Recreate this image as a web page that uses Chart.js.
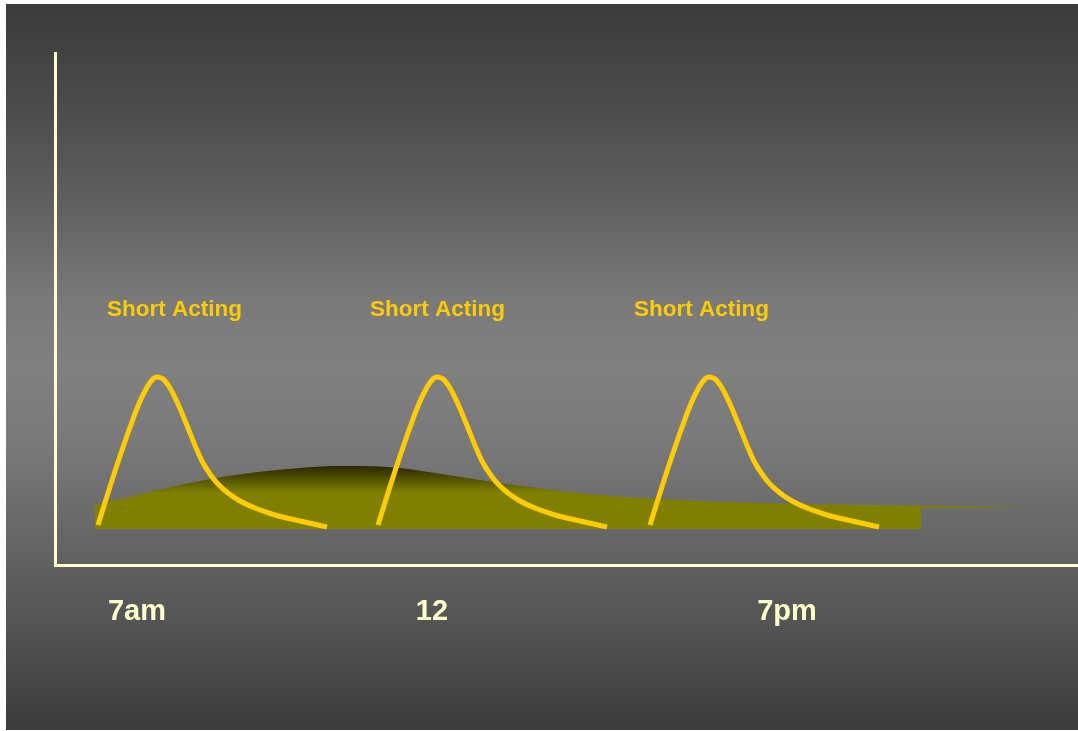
<!DOCTYPE html>
<html>
<head>
<meta charset="utf-8">
<title>Short acting insulin doses over a basal level</title>
<script src="https://cdn.jsdelivr.net/npm/chart.js@4/dist/chart.umd.min.js"></script>
<style>
  html, body { margin: 0; padding: 0; background: #ffffff; }
  canvas { display: block; }
</style>
</head>
<body>
<canvas id="chart" width="1078" height="731"></canvas>
<script>
// Time axis labels and where they sit along the day
const hourTicks = [82, 377, 732];
const hourLabels = ['7am', '12', '7pm'];

// Short acting doses: [time, insulin level]
const shortActing1 = [[43,40],[53,72],[63,103],[73,132],[83,159],[91,176],[97,185],[102,188],[108,186],[115,177],[123,161],[131,142],[139,122],[147,104],[155,91],[163,81],[173,72],[185,64],[200,57],[220,50],[245,44],[272,38]];
const shortActing2 = [[323,40],[333,72],[343,103],[353,132],[363,159],[371,176],[377,185],[382,188],[388,186],[395,177],[403,161],[411,142],[419,122],[427,104],[435,91],[443,81],[453,72],[465,64],[480,57],[500,50],[525,44],[552,38]];
const shortActing3 = [[595,40],[605,72],[615,103],[625,132],[635,159],[643,176],[649,185],[654,188],[660,186],[667,177],[675,161],[683,142],[691,122],[699,104],[707,91],[715,81],[725,72],[737,64],[752,57],[772,50],[797,44],[824,38]];

// Basal (long acting) level: upper edge and floor of the shaded band
const basalTop = [[40,60],[95,73],[145,84],[195,92],[245,97],[280,99],[305,99],[345,97],[380,92],[425,85],[490,76],[545,70],[645,64],[745,61],[866,59.5],[985,57.5]];
const basalFloor = [[40,36],[866,36],[866,57.3],[985,57.5]];

// Dose captions: left edge of each caption and its height on the level axis
const captionText = 'Short Acting';
const captionX = [52, 315, 579];
const captionY = 255;

const FONT = "'Liberation Sans', Arial, Helvetica, sans-serif";
const toPoints = arr => arr.map(([x, y]) => ({ x, y }));

const slideBackground = {
  id: 'slideBackground',
  beforeDraw(chart) {
    const ctx = chart.ctx;
    ctx.save();
    ctx.fillStyle = '#ffffff';
    ctx.fillRect(0, 0, chart.width, chart.height);
    const g = ctx.createLinearGradient(0, 4, 0, 730);
    [[0, '#3b3b3b'], [0.13, '#4a4a4a'], [0.27, '#5f5f5f'], [0.41, '#7a7a7a'], [0.5, '#808080'],
     [0.6, '#7a7a7a'], [0.72, '#686868'], [0.845, '#555555'], [0.955, '#434343'], [1, '#3c3c3c']]
      .forEach(([p, c]) => g.addColorStop(p, c));
    ctx.fillStyle = g;
    ctx.fillRect(6, 4, chart.width - 6, 726);
    ctx.restore();
  }
};

const doseCaptions = {
  id: 'doseCaptions',
  afterDatasetsDraw(chart) {
    const { ctx, scales } = chart;
    ctx.save();
    ctx.font = 'bold 22.5px ' + FONT;
    ctx.fillStyle = '#ffcc00';
    ctx.textAlign = 'left';
    ctx.textBaseline = 'middle';
    captionX.forEach(x => {
      ctx.fillText(captionText, scales.x.getPixelForValue(x), scales.y.getPixelForValue(captionY));
    });
    ctx.restore();
  }
};

function basalFill(context) {
  const chart = context.chart;
  const { ctx, chartArea, scales } = chart;
  if (!chartArea) return '#808000';
  const g = ctx.createLinearGradient(0, scales.y.getPixelForValue(101), 0, scales.y.getPixelForValue(72));
  g.addColorStop(0, '#222200');
  g.addColorStop(1, '#808000');
  return g;
}

const doseStyle = {
  borderColor: '#ffcc00',
  borderWidth: 5,
  pointRadius: 0,
  fill: false,
  cubicInterpolationMode: 'monotone',
  borderCapStyle: 'butt',
  borderJoinStyle: 'round',
  order: 0
};

new Chart(document.getElementById('chart'), {
  type: 'line',
  data: {
    datasets: [
      Object.assign({ label: 'Short acting 1', data: toPoints(shortActing1) }, doseStyle),
      Object.assign({ label: 'Short acting 2', data: toPoints(shortActing2) }, doseStyle),
      Object.assign({ label: 'Short acting 3', data: toPoints(shortActing3) }, doseStyle),
      {
        label: 'Basal',
        data: toPoints(basalTop),
        borderWidth: 0,
        borderColor: 'rgba(0,0,0,0)',
        backgroundColor: basalFill,
        pointRadius: 0,
        cubicInterpolationMode: 'monotone',
        fill: '+1',
        order: 2
      },
      {
        label: 'Basal floor',
        data: toPoints(basalFloor),
        borderWidth: 0,
        borderColor: 'rgba(0,0,0,0)',
        pointRadius: 0,
        tension: 0,
        fill: false,
        order: 3
      }
    ]
  },
  options: {
    responsive: false,
    devicePixelRatio: 1,
    animation: false,
    events: [],
    layout: { padding: { left: 55, top: 53, right: 0, bottom: 0 } },
    plugins: {
      legend: { display: false },
      tooltip: { enabled: false },
      title: { display: false }
    },
    scales: {
      x: {
        type: 'linear',
        min: 0,
        max: 1023,
        grid: { display: false, drawTicks: false },
        border: { display: true, color: '#ffffcc', width: 3 },
        afterBuildTicks(scale) {
          scale.ticks = hourTicks.map(v => ({ value: v }));
        },
        afterFit(scale) { scale.height = 166; },
        ticks: {
          autoSkip: false,
          maxRotation: 0,
          padding: 30,
          color: '#ffffcc',
          font: { family: FONT, size: 29, weight: 'bold' },
          callback: value => hourLabels[hourTicks.indexOf(value)]
        }
      },
      y: {
        type: 'linear',
        min: 0,
        max: 512,
        grid: { display: false, drawTicks: false },
        border: { display: true, color: '#ffffcc', width: 3 },
        ticks: { display: false },
        afterFit(scale) { scale.width = 0; }
      }
    }
  },
  plugins: [slideBackground, doseCaptions]
});
</script>
</body>
</html>
